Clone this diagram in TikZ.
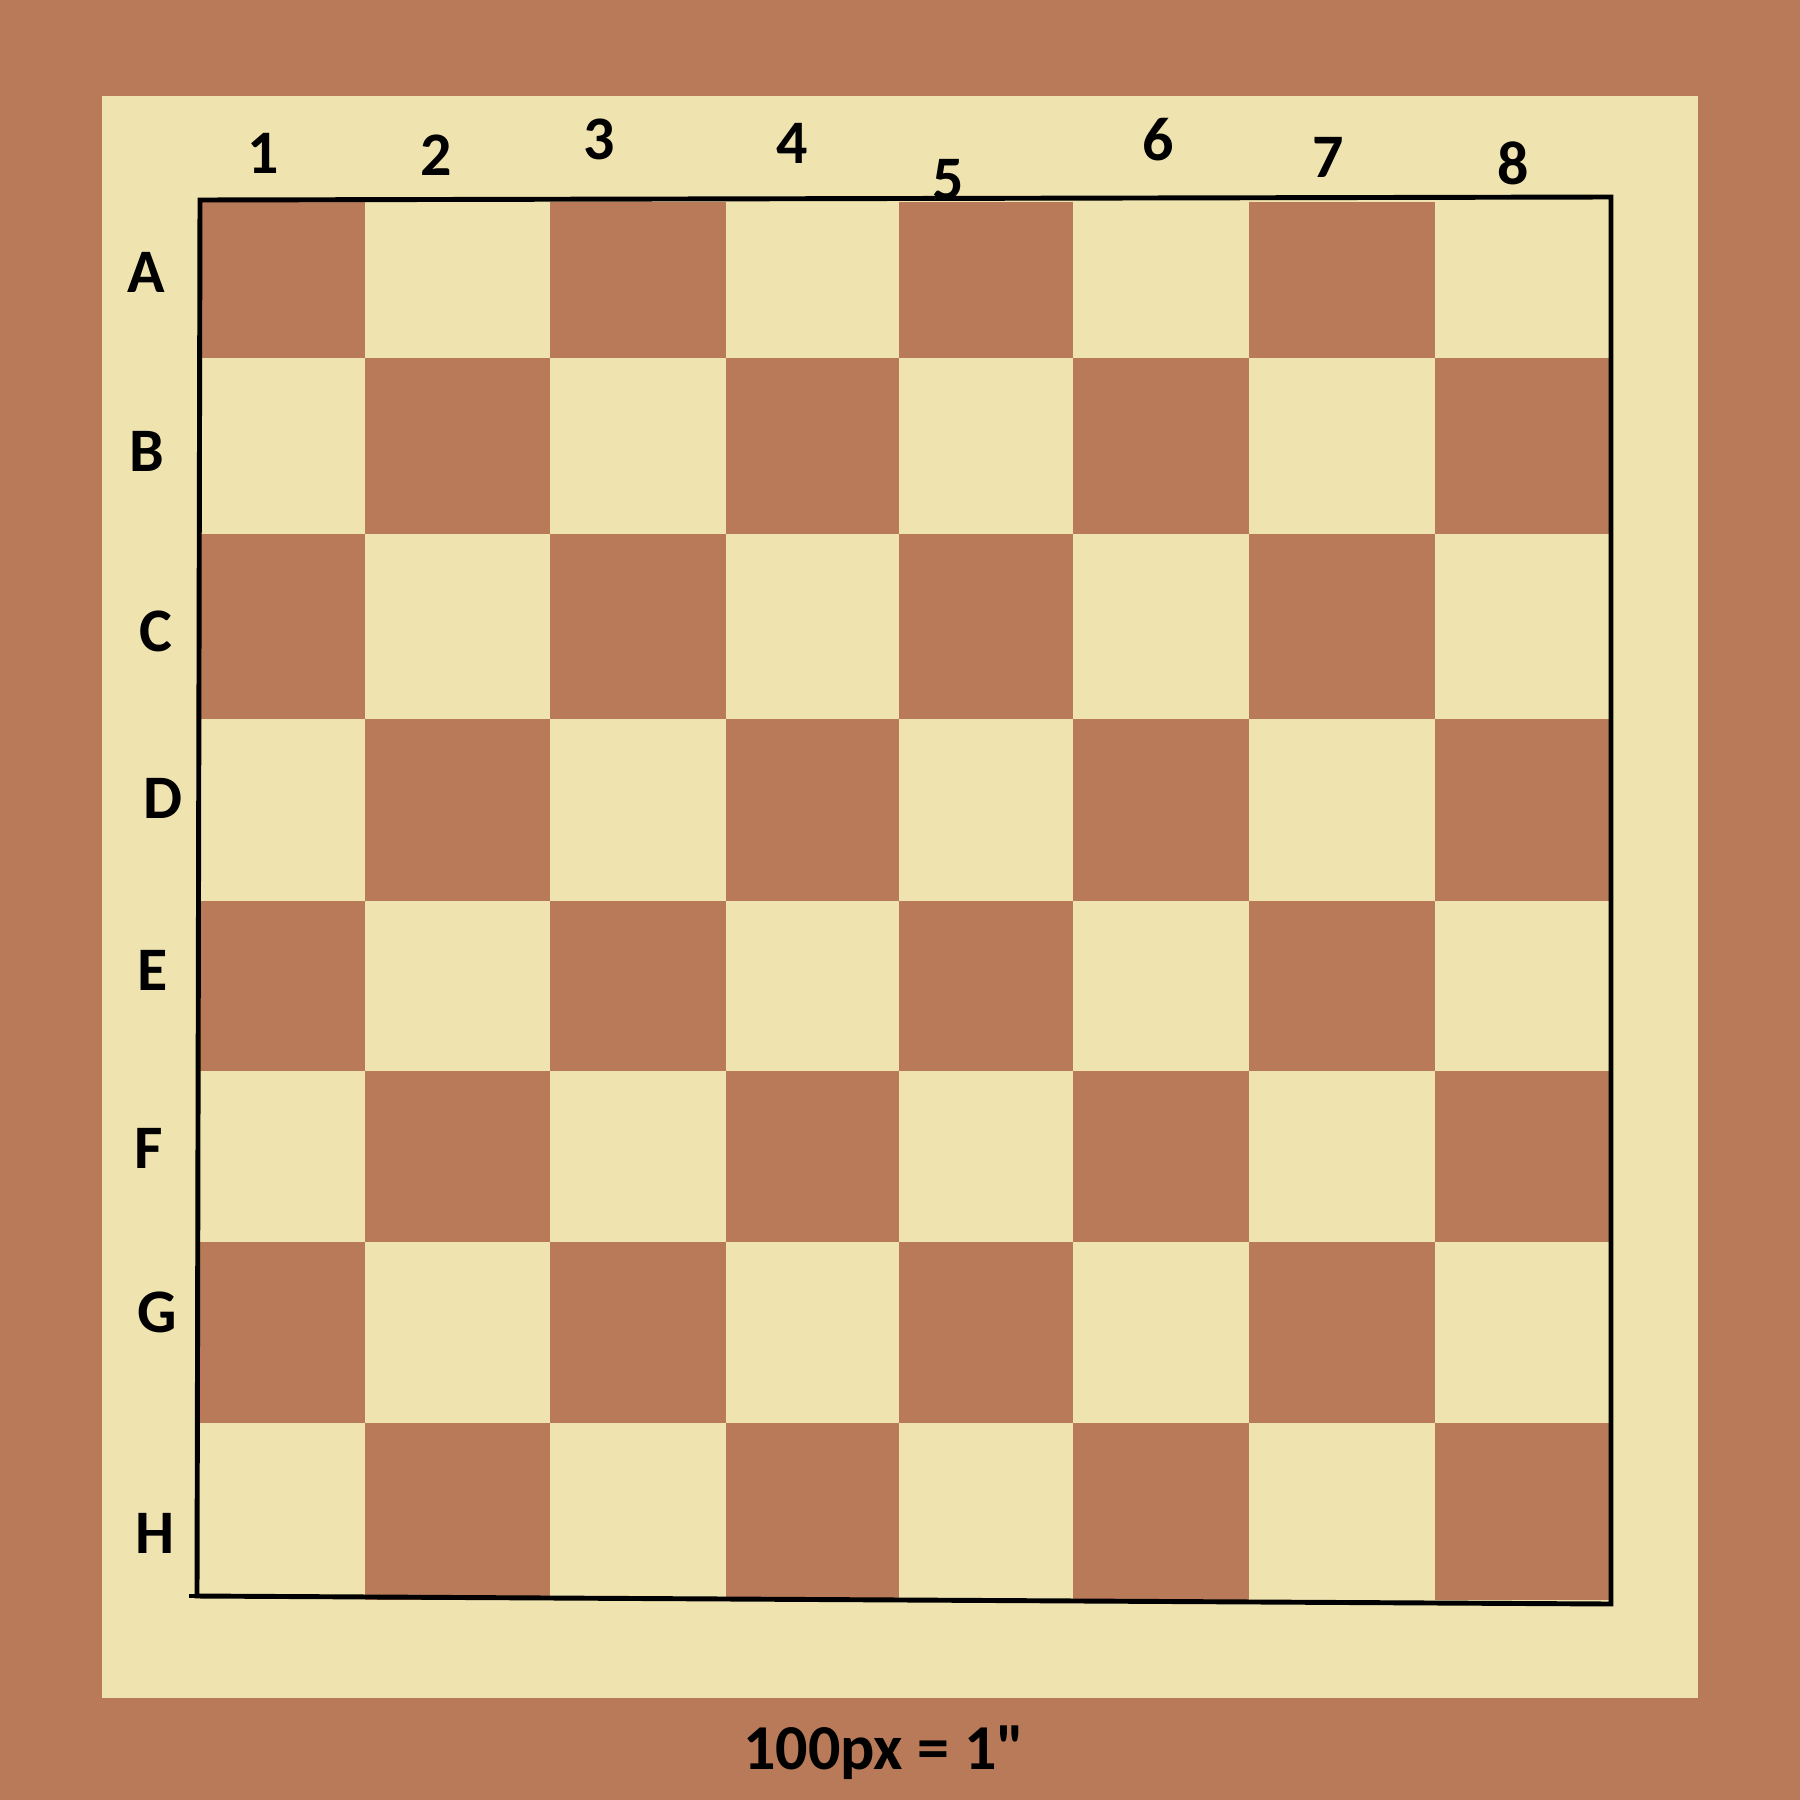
\documentclass[tikz,border=0pt]{standalone}
\usepackage{fontspec}
\setmainfont{Carlito}
\newfontfamily\notefont{Carlito}[Ligatures=TeXOff]
\definecolor{wood}{HTML}{B87A58}
\definecolor{cream}{HTML}{EFE3AF}
\tikzset{
  darksq/.style={fill=wood},
  boardline/.style={draw=black,line width=1.4pt,line join=miter},
  collabel/.style={font=\bfseries\fontsize{17.6}{20}\selectfont,text=black,inner sep=0pt},
  rowlabel/.style={font=\bfseries\fontsize{17.6}{20}\selectfont,text=black,inner sep=0pt},
  scalenote/.style={font=\notefont\bfseries\fontsize{18.2}{21}\selectfont,text=black,inner sep=0pt},
}

\begin{document}
\begin{tikzpicture}[x=0.01cm,y=-0.01cm]
  \useasboundingbox (0,0) rectangle (1800,1800);
  \fill[wood] (0,0) rectangle (1800,1800);
  \fill[cream] (102,96) rectangle (1698,1698);

  % Dark squares; A1 is dark, colours alternate.
  \foreach \r/\ya/\yb in {0/202/358,1/358/534,2/534/719,3/719/901,
                          4/901/1071,5/1071/1242,6/1242/1423,7/1423/1600}
    \foreach \c/\xa/\xb in {0/200/365,1/365/550,2/550/726,3/726/899,
                            4/899/1073,5/1073/1249,6/1249/1435,7/1435/1611}
    {\pgfmathtruncatemacro\sq{mod(\r+\c,2)}
     \ifnum\sq=0 \fill[darksq] (\xa,\ya) rectangle (\xb,\yb);\fi}

  % Board frame, hand drawn.
  \draw[boardline] (200,200) -- (1611,197) -- (1611,1604) -- (197,1596) -- cycle;
  \draw[boardline] (189,1596) -- (197,1596);

  % Column numbers and row letters.
  \foreach \n/\x/\y in {1/263/153,2/436/155,3/599/139,4/792/143,
                        5/948/180,6/1158/140,7/1328/157,8/1513/163}
    \node[collabel] (n\n) at (\x,\y) {\n};
  \foreach \l/\x/\y in {A/146/272,B/147/451,C/156/631,D/163/798,
                        E/153/970,F/149/1148,G/157/1312,H/155/1533}
    \node[rowlabel] (r\l) at (\x,\y) {\l};

  \node[scalenote] (scale) at (884,1753) {100px = 1"};
\end{tikzpicture}
\end{document}
